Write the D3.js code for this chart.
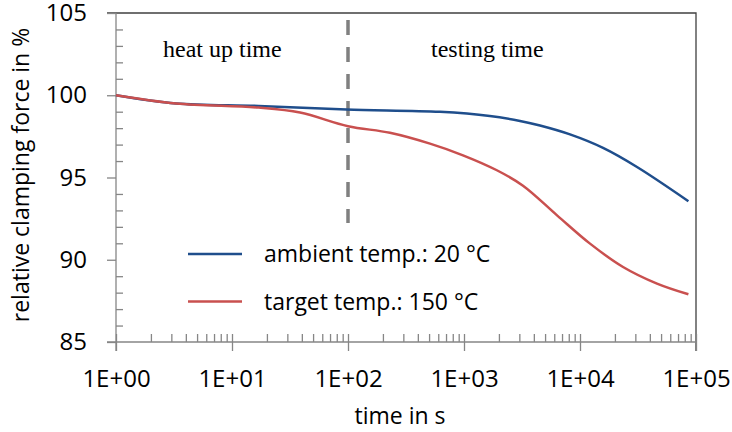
<!DOCTYPE html>
<html>
<head>
<meta charset="utf-8">
<script src="https://cdn.jsdelivr.net/npm/d3@7"></script>
<style>
  body { margin: 0; background: #fff; }
  .tick text { font-family: "Open Sans", sans-serif; font-size: 24px; fill: #000; }
  .axis-label { font-family: "Open Sans", sans-serif; font-size: 23px; fill: #000; }
  .legend-label { font-family: "Open Sans", sans-serif; font-size: 23px; fill: #000; }
  .phase-label { font-family: "Liberation Serif", "Times New Roman", serif; font-size: 24px; fill: #000; }
</style>
</head>
<body>
<svg width="732" height="432"></svg>
<script>
// ambient temp.: 20 °C
const ambientTime  = [1, 3.3, 17, 97, 620, 1670, 3040, 4520, 8200, 15800, 31000, 86000];
const ambientForce = [100, 99.5, 99.35, 99.13, 98.99, 98.74, 98.44, 98.16, 97.62, 96.8, 95.64, 93.56];
// target temp.: 150 °C
const targetTime  = [1, 3.3, 17, 38.6, 100, 230, 509, 980, 1920, 3226, 6340, 12200, 23500, 46100, 86000];
const targetForce = [100, 99.5, 99.25, 98.95, 98.12, 97.72, 97.06, 96.35, 95.44, 94.5, 92.7, 90.98, 89.56, 88.55, 87.9];

const seriesNames = ['ambient temp.: 20 °C', 'target temp.: 150 °C'];
const seriesColors = ['#1f4e8c', '#c9504f'];
const xTicks = [1, 10, 100, 1000, 10000, 100000];
const yTicks = [85, 90, 95, 100, 105];
const phaseLabels = ['heat up time', 'testing time'];
const phaseBoundary = 100;

const margin = { left: 116, right: 36, top: 13, bottom: 90 };

const svg = d3.select('svg');
const width = +svg.attr('width');
const height = +svg.attr('height');
const innerWidth = width - margin.left - margin.right;
const innerHeight = height - margin.top - margin.bottom;

const g = svg.append('g')
    .attr('transform', `translate(${margin.left},${margin.top})`);

const xScale = d3.scaleLog().domain([1, 100000]).range([0, innerWidth]);
const yScale = d3.scaleLinear().domain([85, 105]).range([innerHeight, 0]);

const minorX = [];
for (let e = 0; e < 5; e++) {
  for (let m = 2; m <= 9; m++) minorX.push(m * Math.pow(10, e));
}
const minorY = d3.range(85, 106, 1).filter(v => v % 5 !== 0);

const fmt = d => '1E+' + String(Math.round(Math.log10(d))).padStart(2, '0');

// plot border (top + right)
g.append('path')
    .attr('d', `M${-9},0H${innerWidth}V${innerHeight + 9}`)
    .attr('fill', 'none')
    .attr('stroke', '#404040')
    .attr('stroke-width', 1.3);

// y axis
const yAxisG = g.append('g').call(d3.axisLeft(yScale)
    .tickValues(yTicks).tickSize(9).tickPadding(20).tickFormat(d3.format('d')));
const yMinorG = g.append('g').call(d3.axisRight(yScale)
    .tickValues(minorY).tickSize(7).tickFormat(''));

// x axis
const xAxisG = g.append('g')
    .attr('transform', `translate(0,${innerHeight})`)
    .call(d3.axisBottom(xScale).tickValues(xTicks).tickSize(9).tickPadding(19).tickFormat(fmt));
const xMinorG = g.append('g')
    .attr('transform', `translate(0,${innerHeight})`)
    .call(d3.axisTop(xScale).tickValues(xTicks.concat(minorX)).tickSize(8).tickFormat(''));

[yAxisG, yMinorG, xAxisG, xMinorG].forEach(a => {
  a.select('.domain').remove();
  a.selectAll('line').attr('stroke', '#868686').attr('stroke-width', 1.3);
});

// axis lines, extended past the crossing
g.append('line')
    .attr('x1', 0).attr('x2', 0).attr('y1', 0).attr('y2', innerHeight + 9)
    .attr('stroke', '#868686').attr('stroke-width', 1.3);
g.append('line')
    .attr('x1', -9).attr('x2', innerWidth).attr('y1', innerHeight).attr('y2', innerHeight)
    .attr('stroke', '#868686').attr('stroke-width', 1.3);

// heat up / testing boundary
g.append('line')
    .attr('x1', xScale(phaseBoundary)).attr('x2', xScale(phaseBoundary))
    .attr('y1', 7).attr('y2', 210)
    .attr('stroke', '#808080')
    .attr('stroke-width', 3.5)
    .attr('stroke-dasharray', '15 12');

g.append('text')
    .attr('class', 'phase-label')
    .attr('x', 47).attr('y', 44)
    .text(phaseLabels[0]);
g.append('text')
    .attr('class', 'phase-label')
    .attr('x', 315).attr('y', 44)
    .text(phaseLabels[1]);

// curves
const line = d3.line()
    .x(d => xScale(d[0]))
    .y(d => yScale(d[1]))
    .curve(d3.curveCatmullRom.alpha(0.5));

const series = [
  d3.zip(ambientTime, ambientForce),
  d3.zip(targetTime, targetForce)
];

g.selectAll('.series').data(series)
  .enter().append('path')
    .attr('class', 'series')
    .attr('d', line)
    .attr('fill', 'none')
    .attr('stroke', (d, i) => seriesColors[i])
    .attr('stroke-width', 2.5);

// legend
const legendG = g.append('g').attr('transform', 'translate(72,241)');
seriesNames.forEach((name, i) => {
  legendG.append('line')
      .attr('x1', 0).attr('x2', 54)
      .attr('y1', i * 47.5).attr('y2', i * 47.5)
      .attr('stroke', seriesColors[i])
      .attr('stroke-width', 2.5);
  legendG.append('text')
      .attr('class', 'legend-label')
      .attr('x', 76).attr('y', i * 47.5 + 8)
      .text(name);
});

// axis titles
svg.append('text')
    .attr('class', 'axis-label')
    .attr('x', margin.left + xScale(Math.pow(10, 2.5)) - 6)
    .attr('y', 424)
    .style('text-anchor', 'middle')
    .text('time in s');

svg.append('text')
    .attr('class', 'axis-label')
    .attr('transform', 'translate(29,175) rotate(-90)')
    .style('text-anchor', 'middle')
    .text('relative clamping force in %');
</script>
</body>
</html>
